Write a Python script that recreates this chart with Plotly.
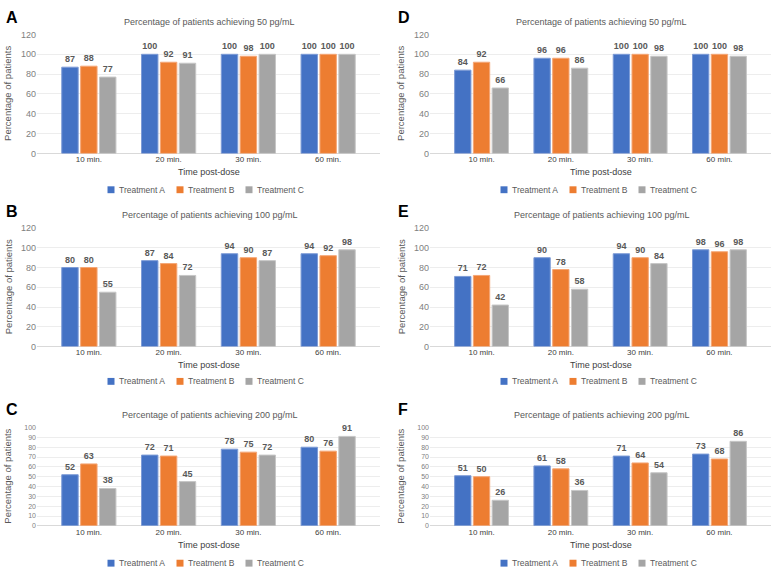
import plotly.graph_objects as go

categories = ["10 min.", "20 min.", "30 min.", "60 min."]
treatments = ["Treatment A", "Treatment B", "Treatment C"]
colors = ["#4472C4", "#ED7D31", "#A5A5A5"]
edge_colors = ["#7D9BD6", "#F4A676", "#C6C6C6"]

panel_letters = ["A", "B", "C", "D", "E", "F"]
panel_titles = [
    "Percentage of patients achieving 50 pg/mL",
    "Percentage of patients achieving 100 pg/mL",
    "Percentage of patients achieving 200 pg/mL",
    "Percentage of patients achieving 50 pg/mL",
    "Percentage of patients achieving 100 pg/mL",
    "Percentage of patients achieving 200 pg/mL",
]

# values per panel: Treatment A, B, C
a_trtA = [87, 100, 100, 100]
a_trtB = [88, 92, 98, 100]
a_trtC = [77, 91, 100, 100]

b_trtA = [80, 87, 94, 94]
b_trtB = [80, 84, 90, 92]
b_trtC = [55, 72, 87, 98]

c_trtA = [52, 72, 78, 80]
c_trtB = [63, 71, 75, 76]
c_trtC = [38, 45, 72, 91]

d_trtA = [84, 96, 100, 100]
d_trtB = [92, 96, 100, 100]
d_trtC = [66, 86, 98, 98]

e_trtA = [71, 90, 94, 98]
e_trtB = [72, 78, 90, 96]
e_trtC = [42, 58, 84, 98]

f_trtA = [51, 61, 71, 73]
f_trtB = [50, 58, 64, 68]
f_trtC = [26, 36, 54, 86]

panel_data = [
    [a_trtA, a_trtB, a_trtC],
    [b_trtA, b_trtB, b_trtC],
    [c_trtA, c_trtB, c_trtC],
    [d_trtA, d_trtB, d_trtC],
    [e_trtA, e_trtB, e_trtC],
    [f_trtA, f_trtB, f_trtC],
]
y_max = [120, 120, 100, 120, 120, 100]
y_dtick = [20, 20, 10, 20, 20, 10]

W, H = 777, 578
FONT = "Liberation Sans, Arial, sans-serif"

def px_x(x):
    return x / W

def px_y(y):
    return 1 - y / H

# layout geometry in pixels
col_x = [(37, 380), (430, 771)]
row_y = [(30, 151), (227, 347.5), (430, 530)]
letter_y = [13, 210, 412]
title_y = [17, 214, 417]
xtitle_y = [170, 366, 549]
legend_y = [188, 383, 568]

fig = go.Figure()
layout = dict(
    width=W, height=H,
    margin=dict(l=0, r=0, t=0, b=0),
    paper_bgcolor="white", plot_bgcolor="white",
    barmode="group", bargap=0.29, bargroupgap=0.13,
    font=dict(family=FONT, color="#595959"),
    showlegend=False,
)
annotations = []
shapes = []

for p in range(6):
    col = p // 3
    row = p % 3
    ax_suffix = "" if p == 0 else str(p + 1)
    xref = "x" + ax_suffix
    yref = "y" + ax_suffix
    x0, x1 = col_x[col]
    y0, y1 = row_y[row]
    small = y_max[p] == 100
    for t in range(3):
        fig.add_trace(go.Bar(
            x=categories, y=panel_data[p][t], name=treatments[t],
            marker=dict(color=colors[t], line=dict(color=edge_colors[t], width=1)),
            text=panel_data[p][t], textposition="outside", texttemplate="%{y}",
            textfont=dict(size=9, color="#595959", family=FONT, weight="bold"),
            constraintext="none", cliponaxis=False,
            xaxis=xref, yaxis=yref, showlegend=False,
        ))
    layout["xaxis" + ax_suffix] = dict(
        domain=[px_x(x0), px_x(x1)], anchor=yref,
        range=[-0.65, 3.65], type="category",
        showgrid=False, zeroline=False, showline=False, ticks="",
        tickfont=dict(size=8, color="#404040", family=FONT),
    )
    layout["yaxis" + ax_suffix] = dict(
        domain=[px_y(y1), px_y(y0)], anchor=xref,
        range=[0, y_max[p]], dtick=y_dtick[p],
        showgrid=True, gridcolor="#EDEDED", gridwidth=1,
        zeroline=True, zerolinecolor="#D9D9D9", zerolinewidth=1,
        showline=False, ticks="",
        tickfont=dict(size=7 if small else 9, color="#808080", family=FONT),
    )
    # legend (swatch + label per treatment)
    ly = legend_y[row]
    for t in range(3):
        mx = x0 + 74 + 69 * t
        shapes.append(dict(
            type="rect", xref="paper", yref="paper",
            x0=px_x(mx - 3.5), x1=px_x(mx + 3.5),
            y0=px_y(ly + 3.5), y1=px_y(ly - 3.5),
            fillcolor=colors[t], line=dict(width=0),
        ))
        annotations.append(dict(
            text=treatments[t], x=px_x(mx + 5.5), y=px_y(ly),
            xref="paper", yref="paper", xanchor="left", yanchor="middle",
            showarrow=False, font=dict(size=8.5, color="#595959", family=FONT),
        ))
    # panel letter
    letter_x = 4 if col == 0 else 396
    annotations.append(dict(
        text="<b>" + panel_letters[p] + "</b>", x=px_x(letter_x), y=px_y(letter_y[row]),
        xref="paper", yref="paper", xanchor="left", yanchor="middle",
        showarrow=False, font=dict(size=16, color="black", family=FONT),
    ))
    # panel title
    annotations.append(dict(
        text=panel_titles[p], x=px_x((x0 + x1) / 2 + 1), y=px_y(title_y[row]),
        xref="paper", yref="paper", xanchor="center", yanchor="middle",
        showarrow=False, font=dict(size=9, color="#595959", family=FONT),
    ))
    # y-axis title
    ytitle_x = 8 if col == 0 else 401
    annotations.append(dict(
        text="Percentage of patients", x=px_x(ytitle_x), y=px_y((y0 + y1) / 2),
        xref="paper", yref="paper", xanchor="center", yanchor="middle",
        textangle=-90, showarrow=False,
        font=dict(size=9.5, color="#595959", family=FONT),
    ))
    # x-axis title
    annotations.append(dict(
        text="Time post-dose", x=px_x((x0 + x1) / 2), y=px_y(xtitle_y[row]),
        xref="paper", yref="paper", xanchor="center", yanchor="middle",
        showarrow=False, font=dict(size=9, color="#404040", family=FONT),
    ))

layout["annotations"] = annotations
layout["shapes"] = shapes
fig.update_layout(**layout)
fig.write_html(
    "out.html",
    config={"displayModeBar": False},
    post_script="document.body.style.margin='0';document.body.style.overflow='hidden';",
)
